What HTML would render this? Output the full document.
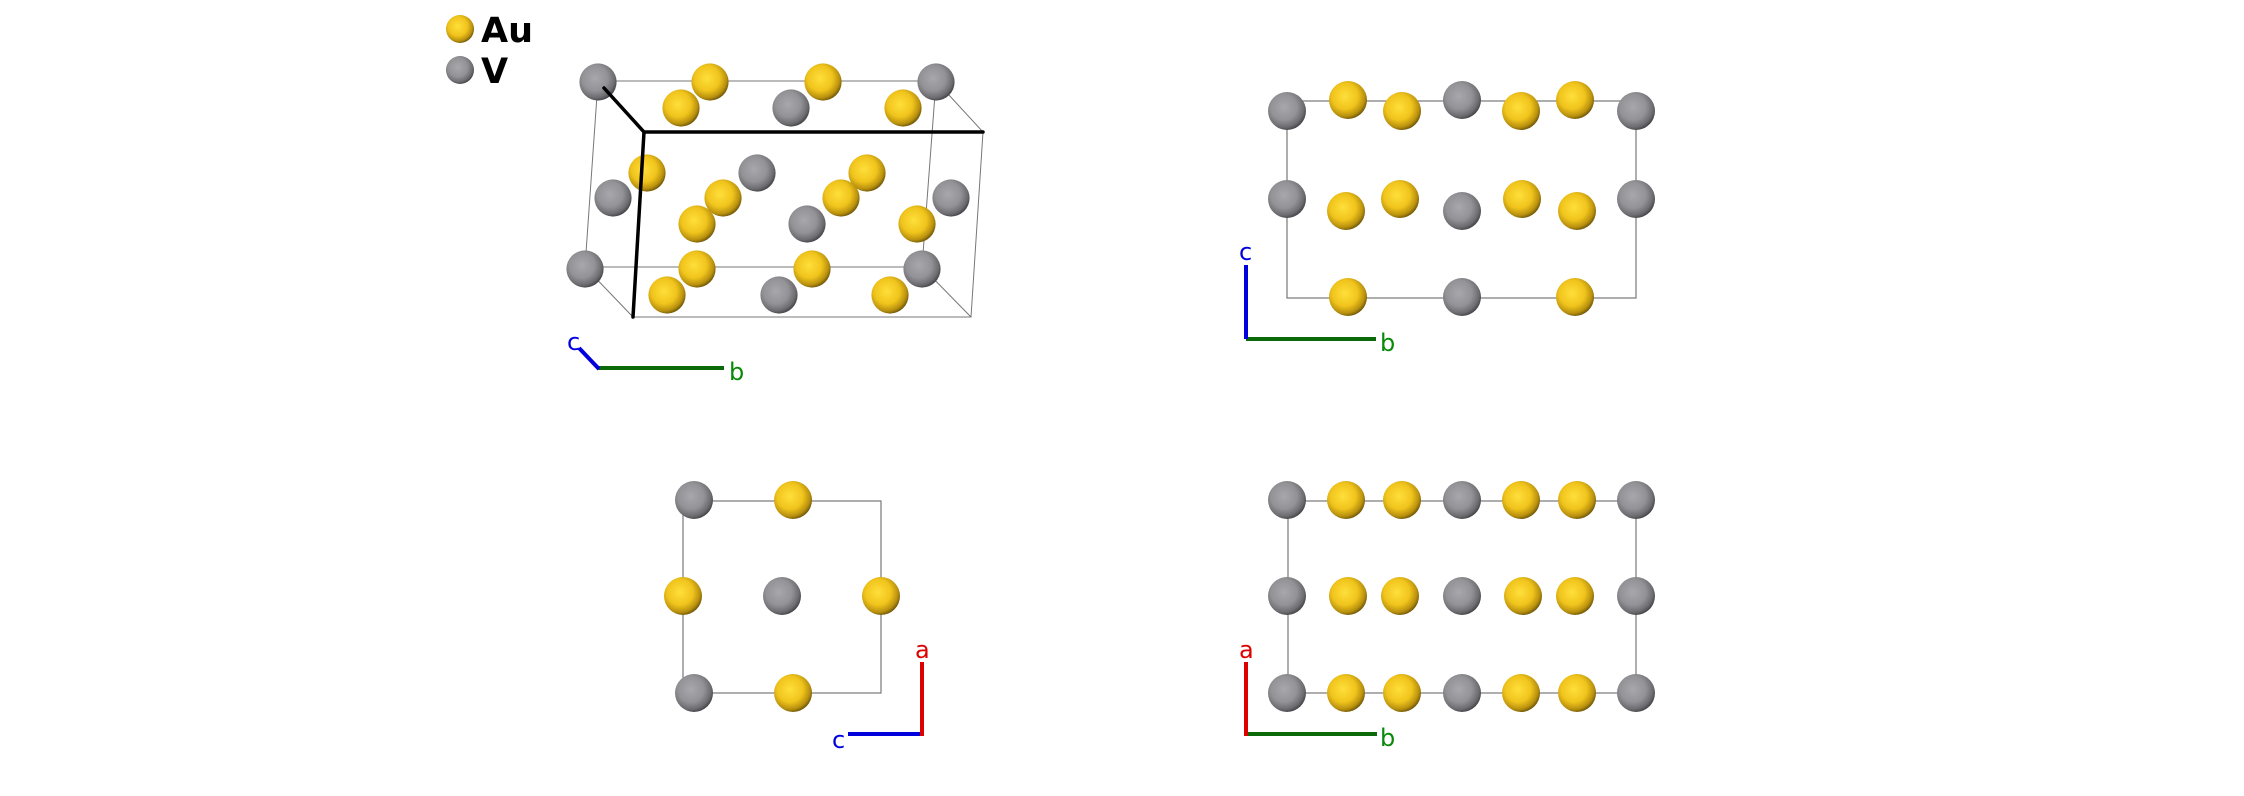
<!DOCTYPE html>
<html><head><meta charset="utf-8"><style>
html,body{margin:0;padding:0;background:#fff;}
svg{display:block;}
text{font-family:"DejaVu Sans","Liberation Sans",sans-serif;}
</style></head><body>
<svg width="2244" height="796" viewBox="0 0 2244 796" xmlns="http://www.w3.org/2000/svg">
<defs>
<radialGradient id="au" cx="0.42" cy="0.4" r="0.62">
<stop offset="0" stop-color="#ffdf3a"/><stop offset="0.55" stop-color="#f0c41c"/><stop offset="0.85" stop-color="#b8900e"/><stop offset="1" stop-color="#6e5608"/></radialGradient>
<radialGradient id="v" cx="0.42" cy="0.4" r="0.62">
<stop offset="0" stop-color="#a8a8ac"/><stop offset="0.55" stop-color="#939397"/><stop offset="0.85" stop-color="#6c6c70"/><stop offset="1" stop-color="#444448"/></radialGradient>
</defs>
<!-- legend -->
<circle cx="460" cy="29" r="14" fill="url(#au)"/>
<circle cx="460" cy="70" r="14" fill="url(#v)"/>
<text x="481" y="42" font-size="35" font-weight="bold" fill="#000">Au</text>
<text x="481" y="83" font-size="35" font-weight="bold" fill="#000">V</text>

<!-- panel 1 -->
<g stroke="#777" stroke-width="1" fill="none">
<polygon points="598,81 936,81 922,267 585,267"/>
<polygon points="644,132 983,132 971,317 633,317"/>
<line x1="936" y1="81" x2="983" y2="132"/><line x1="922" y1="267" x2="971" y2="317"/><line x1="585" y1="267" x2="633" y2="317"/>
</g>
<g>
<circle cx="598" cy="82" r="18.6" fill="url(#v)"/>
<circle cx="710" cy="82" r="18.6" fill="url(#au)"/>
<circle cx="681" cy="108" r="18.6" fill="url(#au)"/>
<circle cx="823" cy="82" r="18.6" fill="url(#au)"/>
<circle cx="791" cy="108" r="18.6" fill="url(#v)"/>
<circle cx="936" cy="82" r="18.6" fill="url(#v)"/>
<circle cx="903" cy="108" r="18.6" fill="url(#au)"/>
<circle cx="647" cy="173" r="18.6" fill="url(#au)"/>
<circle cx="757" cy="173" r="18.6" fill="url(#v)"/>
<circle cx="867" cy="173" r="18.6" fill="url(#au)"/>
<circle cx="613" cy="198" r="18.6" fill="url(#v)"/>
<circle cx="723" cy="198" r="18.6" fill="url(#au)"/>
<circle cx="841" cy="198" r="18.6" fill="url(#au)"/>
<circle cx="951" cy="198" r="18.6" fill="url(#v)"/>
<circle cx="697" cy="224" r="18.6" fill="url(#au)"/>
<circle cx="807" cy="224" r="18.6" fill="url(#v)"/>
<circle cx="917" cy="224" r="18.6" fill="url(#au)"/>
<circle cx="585" cy="269" r="18.6" fill="url(#v)"/>
<circle cx="697" cy="269" r="18.6" fill="url(#au)"/>
<circle cx="812" cy="269" r="18.6" fill="url(#au)"/>
<circle cx="922" cy="269" r="18.6" fill="url(#v)"/>
<circle cx="667" cy="295" r="18.6" fill="url(#au)"/>
<circle cx="779" cy="295" r="18.6" fill="url(#v)"/>
<circle cx="890" cy="295" r="18.6" fill="url(#au)"/>
</g>
<g stroke="#000" stroke-width="3.5" fill="none" stroke-linecap="round">
<polyline points="604,88 644,132 983,132"/><line x1="644" y1="132" x2="633" y2="317"/>
</g>
<line x1="597" y1="368" x2="724" y2="368" stroke="#0a6a0a" stroke-width="4"/>
<line x1="599" y1="369" x2="579" y2="348" stroke="#0000dd" stroke-width="4"/>
<text x="567" y="350" font-size="24" fill="#0000dd">c</text>
<text x="729" y="380" font-size="24" fill="#0a8a0a">b</text>

<!-- panel 2 -->
<rect x="1287" y="101" width="349" height="197" fill="none" stroke="#777" stroke-width="1.2"/>
<g>
<circle cx="1287" cy="111" r="19" fill="url(#v)"/>
<circle cx="1348" cy="100" r="19" fill="url(#au)"/>
<circle cx="1402" cy="111" r="19" fill="url(#au)"/>
<circle cx="1462" cy="100" r="19" fill="url(#v)"/>
<circle cx="1521" cy="111" r="19" fill="url(#au)"/>
<circle cx="1575" cy="100" r="19" fill="url(#au)"/>
<circle cx="1636" cy="111" r="19" fill="url(#v)"/>
<circle cx="1287" cy="199" r="19" fill="url(#v)"/>
<circle cx="1346" cy="211" r="19" fill="url(#au)"/>
<circle cx="1400" cy="199" r="19" fill="url(#au)"/>
<circle cx="1462" cy="211" r="19" fill="url(#v)"/>
<circle cx="1522" cy="199" r="19" fill="url(#au)"/>
<circle cx="1577" cy="211" r="19" fill="url(#au)"/>
<circle cx="1636" cy="199" r="19" fill="url(#v)"/>
<circle cx="1348" cy="297" r="19" fill="url(#au)"/>
<circle cx="1462" cy="297" r="19" fill="url(#v)"/>
<circle cx="1575" cy="297" r="19" fill="url(#au)"/>
</g>
<line x1="1246" y1="339" x2="1376" y2="339" stroke="#0a6a0a" stroke-width="4"/>
<line x1="1246" y1="265" x2="1246" y2="339" stroke="#0000dd" stroke-width="4"/>
<text x="1239" y="260" font-size="24" fill="#0000dd">c</text>
<text x="1380" y="351" font-size="24" fill="#0a8a0a">b</text>

<!-- panel 3 -->
<rect x="683" y="501" width="198" height="192" fill="none" stroke="#777" stroke-width="1.2"/>
<circle cx="694" cy="500" r="19" fill="url(#v)"/>
<circle cx="793" cy="500" r="19" fill="url(#au)"/>
<circle cx="683" cy="596" r="19" fill="url(#au)"/>
<circle cx="782" cy="596" r="19" fill="url(#v)"/>
<circle cx="881" cy="596" r="19" fill="url(#au)"/>
<circle cx="694" cy="693" r="19" fill="url(#v)"/>
<circle cx="793" cy="693" r="19" fill="url(#au)"/>
<line x1="848" y1="734" x2="922" y2="734" stroke="#0000dd" stroke-width="4"/>
<line x1="922" y1="662" x2="922" y2="736" stroke="#dd0000" stroke-width="4"/>
<text x="915" y="658" font-size="24" fill="#dd0000">a</text>
<text x="832" y="748" font-size="24" fill="#0000dd">c</text>

<!-- panel 4 -->
<rect x="1288" y="501" width="348" height="192" fill="none" stroke="#777" stroke-width="1.2"/>
<g>
<circle cx="1287" cy="500" r="19" fill="url(#v)"/>
<circle cx="1346" cy="500" r="19" fill="url(#au)"/>
<circle cx="1402" cy="500" r="19" fill="url(#au)"/>
<circle cx="1462" cy="500" r="19" fill="url(#v)"/>
<circle cx="1521" cy="500" r="19" fill="url(#au)"/>
<circle cx="1577" cy="500" r="19" fill="url(#au)"/>
<circle cx="1636" cy="500" r="19" fill="url(#v)"/>
<circle cx="1287" cy="596" r="19" fill="url(#v)"/>
<circle cx="1348" cy="596" r="19" fill="url(#au)"/>
<circle cx="1400" cy="596" r="19" fill="url(#au)"/>
<circle cx="1462" cy="596" r="19" fill="url(#v)"/>
<circle cx="1523" cy="596" r="19" fill="url(#au)"/>
<circle cx="1575" cy="596" r="19" fill="url(#au)"/>
<circle cx="1636" cy="596" r="19" fill="url(#v)"/>
<circle cx="1287" cy="693" r="19" fill="url(#v)"/>
<circle cx="1346" cy="693" r="19" fill="url(#au)"/>
<circle cx="1402" cy="693" r="19" fill="url(#au)"/>
<circle cx="1462" cy="693" r="19" fill="url(#v)"/>
<circle cx="1521" cy="693" r="19" fill="url(#au)"/>
<circle cx="1577" cy="693" r="19" fill="url(#au)"/>
<circle cx="1636" cy="693" r="19" fill="url(#v)"/>
</g>
<line x1="1246" y1="734" x2="1377" y2="734" stroke="#0a6a0a" stroke-width="4"/>
<line x1="1246" y1="662" x2="1246" y2="736" stroke="#dd0000" stroke-width="4"/>
<text x="1239" y="658" font-size="24" fill="#dd0000">a</text>
<text x="1380" y="746" font-size="24" fill="#0a8a0a">b</text>
</svg>
</body></html>
